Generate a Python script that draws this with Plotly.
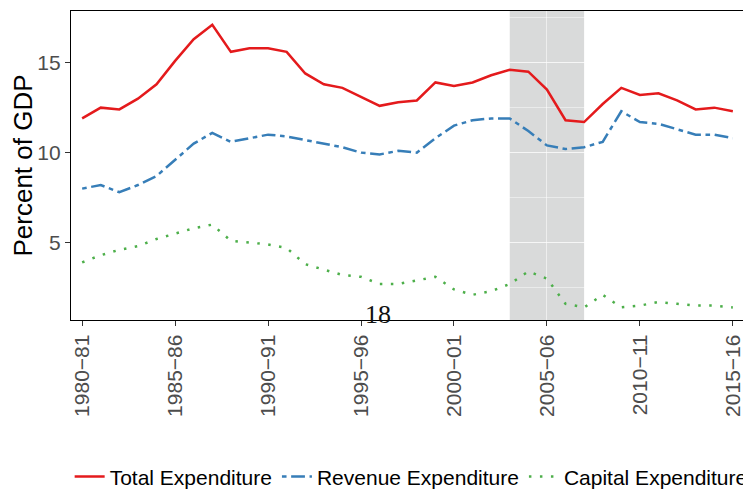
import plotly.graph_objects as go

years = ["1980−81", "1981−82", "1982−83", "1983−84", "1984−85", "1985−86",
         "1986−87", "1987−88", "1988−89", "1989−90", "1990−91", "1991−92",
         "1992−93", "1993−94", "1994−95", "1995−96", "1996−97", "1997−98",
         "1998−99", "1999−00", "2000−01", "2001−02", "2002−03", "2003−04",
         "2004−05", "2005−06", "2006−07", "2007−08", "2008−09", "2009−10",
         "2010−11", "2011−12", "2012−13", "2013−14", "2014−15", "2015−16"]

total_exp = [11.9, 12.5, 12.4, 13.0, 13.8, 15.1, 16.3, 17.1, 15.6, 15.8, 15.8, 15.6,
             14.4, 13.8, 13.6, 13.1, 12.6, 12.8, 12.9, 13.9, 13.7, 13.9, 14.3, 14.6,
             14.5, 13.5, 11.8, 11.7, 12.7, 13.6, 13.2, 13.3, 12.9, 12.4, 12.5, 12.3]

revenue_exp = [8.0, 8.2, 7.8, 8.2, 8.7, 9.6, 10.5, 11.1, 10.6, 10.8, 11.0, 10.9,
               10.7, 10.5, 10.3, 10.0, 9.9, 10.1, 10.0, 10.8, 11.5, 11.8, 11.9, 11.9,
               11.2, 10.4, 10.2, 10.3, 10.6, 12.3, 11.7, 11.6, 11.3, 11.0, 11.0, 10.8]

capital_exp = [3.9, 4.3, 4.6, 4.8, 5.2, 5.5, 5.8, 6.0, 5.1, 5.0, 4.9, 4.7,
               3.8, 3.5, 3.2, 3.1, 2.7, 2.7, 2.9, 3.1, 2.4, 2.1, 2.3, 2.7,
               3.4, 3.0, 1.6, 1.4, 2.1, 1.4, 1.5, 1.7, 1.6, 1.5, 1.5, 1.4]

tick_years = ["1980−81", "1985−86", "1990−91", "1995−96", "2000−01",
              "2005−06", "2010−11", "2015−16"]
y_ticks = [5, 10, 15]
shade_start, shade_end = "2003−04", "2007−08"
page_label = "18"

FONT = "Liberation Sans, Arial, Helvetica, sans-serif"

fig = go.Figure()
fig.add_trace(go.Scatter(x=years, y=total_exp, mode="lines", name="Total Expenditure",
                         line=dict(color="#E41A1C", width=2.5)))
fig.add_trace(go.Scatter(x=years, y=revenue_exp, mode="lines", name="Revenue Expenditure",
                         line=dict(color="#377EB8", width=2.5,
                                   dash="4.6px,4.6px,13.8px,4.6px")))
fig.add_trace(go.Scatter(x=years, y=capital_exp, mode="lines", name="Capital Expenditure",
                         line=dict(color="#4DAF4A", width=2.5, dash="2.5px,8.5px")))

fig.add_shape(type="rect", xref="x", yref="paper", x0=shade_start, x1=shade_end,
              y0=0, y1=1, fillcolor="#d9dada", line=dict(width=0), layer="below")

fig.add_annotation(text=page_label, xref="paper", yref="paper", x=0.456, y=0.018,
                   xanchor="center", yanchor="middle", showarrow=False,
                   font=dict(family="Liberation Serif, Times New Roman, serif",
                             size=26, color="#111111"))

# the page body adds an 8px margin, so the figure is sized to the remaining window
fig.update_layout(
    width=743, height=481,
    margin=dict(l=63, r=7, t=3, b=169, autoexpand=False),
    paper_bgcolor="white", plot_bgcolor="white",
    font=dict(family=FONT, color="#000000"),
    showlegend=True,
    legend=dict(orientation="h", x=-0.002, xanchor="left", y=-0.508, yanchor="middle",
                font=dict(size=21, color="#000000", family=FONT),
                bgcolor="rgba(0,0,0,0)", tracegroupgap=0, itemwidth=30),
)

fig.update_xaxes(
    type="category", range=[-0.6, 35.6], automargin=False,
    tickmode="array", tickvals=tick_years, ticktext=tick_years,
    tickangle=-90, tickfont=dict(size=21, color="#4d4d4d", family=FONT),
    ticks="outside", ticklen=5, tickcolor="#333333", tickwidth=1.2,
    showline=True, linecolor="#000000", linewidth=1.3, mirror=True,
    showgrid=True, gridcolor="rgba(255,255,255,0.55)", gridwidth=1,
    zeroline=False,
)
fig.update_yaxes(
    range=[0.7, 17.87], automargin=False,
    tickmode="array", tickvals=y_ticks,
    tickfont=dict(size=21, color="#4d4d4d", family=FONT),
    ticks="outside", ticklen=5, tickcolor="#333333", tickwidth=1.2,
    showline=True, linecolor="#000000", linewidth=1.3, mirror=True,
    showgrid=True, gridcolor="rgba(255,255,255,0.55)", gridwidth=1,
    minor=dict(tickmode="linear", tick0=0, dtick=2.5, showgrid=True,
               gridcolor="rgba(255,255,255,0.45)", gridwidth=0.6, ticks=""),
    zeroline=False,
    title=dict(text="Percent of GDP", font=dict(size=26, color="#000000", family=FONT),
               standoff=6),
)

fig.write_html("out.html")
